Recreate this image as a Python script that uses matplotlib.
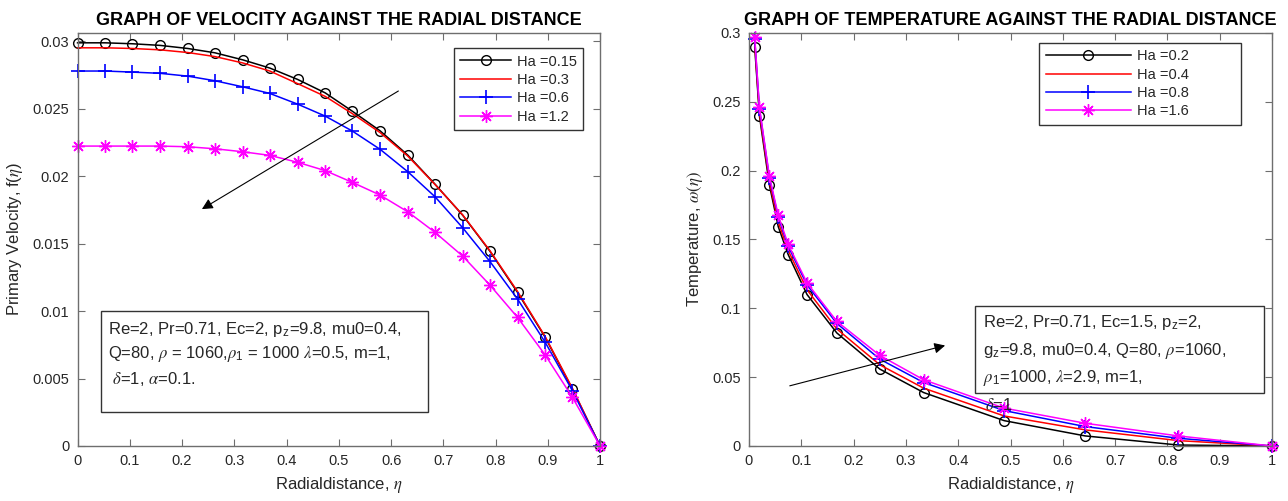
import matplotlib

matplotlib.use("Agg")

import matplotlib.pyplot as plt
from matplotlib.patches import Rectangle

plt.rcParams["font.family"] = ["Liberation Sans", "DejaVu Sans"]
plt.rcParams["mathtext.fontset"] = "stix"

TEXT = "#262626"
AXIS = "#6e6e6e"
MAGENTA = "#ff00ff"

# velocity panel
eta_v = [0.000, 0.053, 0.105, 0.158, 0.211, 0.263, 0.316, 0.368, 0.421, 0.474,
         0.526, 0.579, 0.632, 0.684, 0.737, 0.789, 0.842, 0.895, 0.947, 1.000]
f_ha015 = [0.02987, 0.02987, 0.02980, 0.02968, 0.02945, 0.02913, 0.02861, 0.02800, 0.02716, 0.02616,
           0.02480, 0.02335, 0.02155, 0.01940, 0.01710, 0.01444, 0.01138, 0.00805, 0.00422, 0.0]
f_ha03 = [0.02950, 0.02950, 0.02945, 0.02935, 0.02915, 0.02885, 0.02838, 0.02778, 0.02685, 0.02590,
          0.02462, 0.02322, 0.02148, 0.01938, 0.01712, 0.01448, 0.01145, 0.00810, 0.00428, 0.0]
f_ha06 = [0.02778, 0.02778, 0.02770, 0.02761, 0.02740, 0.02706, 0.02661, 0.02612, 0.02533, 0.02444,
          0.02333, 0.02198, 0.02032, 0.01847, 0.01617, 0.01368, 0.01089, 0.00768, 0.00410, 0.0]
f_ha12 = [0.02222, 0.02222, 0.02222, 0.02222, 0.02217, 0.02202, 0.02180, 0.02153, 0.02102, 0.02040,
          0.01953, 0.01859, 0.01735, 0.01583, 0.01407, 0.01193, 0.00953, 0.00674, 0.00361, 0.0]
ha_v = ["0.15", "0.3", "0.6", "1.2"]

# temperature panel
eta_t = [0.011, 0.020, 0.039, 0.056, 0.075, 0.111, 0.168, 0.250, 0.334, 0.488, 0.643, 0.821, 1.000]
w_ha02 = [0.2896, 0.2398, 0.1896, 0.1593, 0.1390, 0.1100, 0.0821, 0.0559, 0.0388, 0.0184, 0.0073, 0.0007, 0.0]
w_ha04 = [0.2920, 0.2420, 0.1920, 0.1625, 0.1420, 0.1135, 0.0850, 0.0590, 0.0420, 0.0218, 0.0117, 0.0039, 0.0]
w_ha08 = [0.2955, 0.2450, 0.1950, 0.1662, 0.1450, 0.1170, 0.0890, 0.0631, 0.0461, 0.0257, 0.0141, 0.0056, 0.0]
w_ha16 = [0.2969, 0.2459, 0.1961, 0.1675, 0.1464, 0.1185, 0.0905, 0.0658, 0.0481, 0.0275, 0.0165, 0.0073, 0.0]
ha_t = ["0.2", "0.4", "0.8", "1.6"]

xticks = [0, 0.1, 0.2, 0.3, 0.4, 0.5, 0.6, 0.7, 0.8, 0.9, 1]
xticklabels = ["0", "0.1", "0.2", "0.3", "0.4", "0.5", "0.6", "0.7", "0.8", "0.9", "1"]
vticks = [0, 0.005, 0.01, 0.015, 0.02, 0.025, 0.03]
vticklabels = ["0", "0.005", "0.01", "0.015", "0.02", "0.025", "0.03"]
tticks = [0, 0.05, 0.1, 0.15, 0.2, 0.25, 0.3]
tticklabels = ["0", "0.05", "0.1", "0.15", "0.2", "0.25", "0.3"]

STYLES = [
    dict(color="k", marker="o", mfc="none", ms=7),
    dict(color="#ff0000", marker=None),
    dict(color="#0000ff", marker="+", ms=10, mew=1.2),
    dict(color=MAGENTA, marker=(8, 2, 0), ms=9, mew=1.0),
]


def _style_axes(ax):
    for s in ax.spines.values():
        s.set_color(AXIS)
        s.set_linewidth(1.0)
    ax.tick_params(direction="in", length=5, width=0.8, color=AXIS, labelcolor=TEXT,
                   labelsize=10.5, top=True, right=True, pad=6)
    ax.set_xticks(xticks)
    ax.set_xticklabels(xticklabels)
    ax.set_xlim(0, 1)


def _legend(ax, anchor, handlelength):
    leg = ax.legend(loc="upper right", bbox_to_anchor=anchor, fontsize=10.5,
                    handlelength=handlelength, handletextpad=0.4, labelspacing=0.3,
                    borderpad=0.45, borderaxespad=0, fancybox=False, framealpha=1)
    leg.get_frame().set_edgecolor("#333333")
    leg.get_frame().set_linewidth(1.0)
    for t in leg.get_texts():
        t.set_color(TEXT)


def _box(ax, x0, y0, x1, y1, lines, ys, tx):
    ax.add_patch(Rectangle((x0, y0), x1 - x0, y1 - y0, transform=ax.transAxes,
                           fill=False, edgecolor="#333333", linewidth=1.0, zorder=5))
    for line, y in zip(lines, ys):
        ax.text(tx, y, line, transform=ax.transAxes, ha="left", va="center",
                fontsize=12, color=TEXT, zorder=6)


fig = plt.figure(figsize=(12.88, 5.01), dpi=100)
ax1 = fig.add_axes([0.0602, 0.1098, 0.4057, 0.8244])
ax2 = fig.add_axes([0.5815, 0.1098, 0.4061, 0.8244])

# left: velocity
for vals, ha, st in zip([f_ha015, f_ha03, f_ha06, f_ha12], ha_v, STYLES):
    ax1.plot(eta_v, vals, lw=1.1, label=f"Ha ={ha}", clip_on=False, **st)
ax1.set_ylim(0, 0.0306)
ax1.set_yticks(vticks)
ax1.set_yticklabels(vticklabels)
_style_axes(ax1)
ax1.set_title("GRAPH OF VELOCITY AGAINST THE RADIAL DISTANCE", fontsize=13,
              fontweight="bold", color="k", pad=6)
ax1.set_xlabel(r"Radialdistance, $\eta$", fontsize=12, color=TEXT, labelpad=5)
ax1.set_ylabel(r"Primary Velocity, f($\eta$)", fontsize=12, color=TEXT, labelpad=5)
_legend(ax1, (0.9675, 0.9637), 3.45)
ax1.annotate("", xy=(0.238, 0.01755), xytext=(0.614, 0.0263),
             arrowprops=dict(arrowstyle="-|>", color="k", lw=0.8, mutation_scale=16,
                             shrinkA=0, shrinkB=0))
_box(ax1, 0.045, 0.0814, 0.67, 0.327,
     [r"Re=2, Pr=0.71, Ec=2, p$_\mathregular{z}$=9.8, mu0=0.4,",
      r"Q=80, $\rho$ = 1060,$\rho_\mathregular{1}$ = 1000 $\lambda$=0.5, m=1,",
      r" $\delta$=1, $\alpha$=0.1."],
     [0.283, 0.2235, 0.163], 0.058)

# right: temperature (legend box is wider than its labels in the original)
for vals, ha, st in zip([w_ha02, w_ha04, w_ha08, w_ha16], ha_t, STYLES):
    ax2.plot(eta_t, vals, lw=1.1, label=f"Ha ={ha}" + " " * 11, clip_on=False, **st)
ax2.set_ylim(0, 0.3)
ax2.set_yticks(tticks)
ax2.set_yticklabels(tticklabels)
_style_axes(ax2)
ax2.set_title("GRAPH OF TEMPERATURE AGAINST THE RADIAL DISTANCE", fontsize=13,
              fontweight="bold", color="k", pad=6)
ax2.set_xlabel(r"Radialdistance, $\eta$", fontsize=12, color=TEXT, labelpad=5)
ax2.set_ylabel(r"Temperature, $\omega(\eta)$", fontsize=12, color=TEXT, labelpad=5)
_legend(ax2, (0.940, 0.9765), 5.85)
ax2.annotate("", xy=(0.375, 0.073), xytext=(0.078, 0.0437),
             arrowprops=dict(arrowstyle="-|>", color="k", lw=0.8, mutation_scale=16,
                             shrinkA=0, shrinkB=0))
_box(ax2, 0.432, 0.129, 0.985, 0.34,
     [r"Re=2, Pr=0.71, Ec=1.5, p$_\mathregular{z}$=2,",
      r"g$_\mathregular{z}$=9.8, mu0=0.4, Q=80, $\rho$=1060,",
      r"$\rho_\mathregular{1}$=1000, $\lambda$=2.9, m=1,"],
     [0.298, 0.229, 0.164], 0.447)
ax2.text(0.451, 0.0997, r"$\delta$=1", transform=ax2.transAxes, ha="left", va="center",
         fontsize=12, color=TEXT, zorder=6)

fig.savefig("out.png", dpi=100)
